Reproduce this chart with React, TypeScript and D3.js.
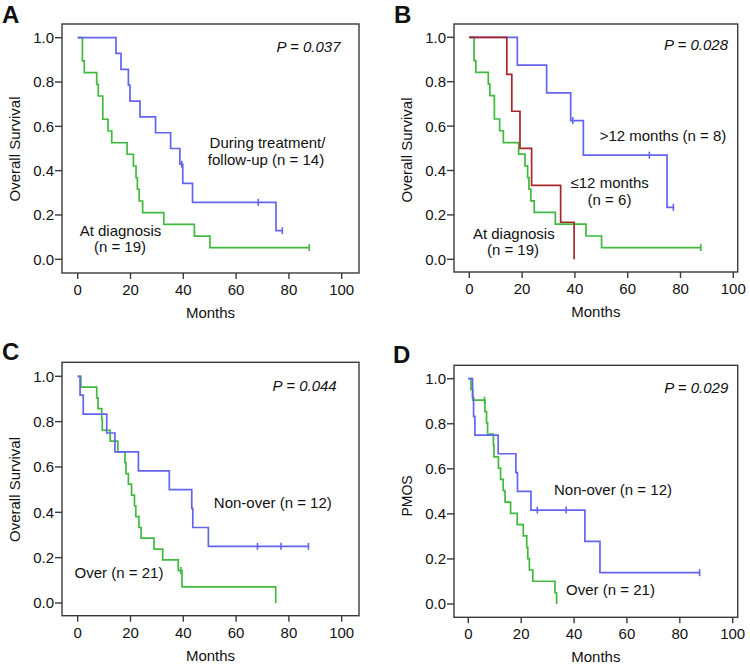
import React from "react";
import * as d3 from "d3";

const monthTicks = [0, 20, 40, 60, 80, 100];
const survTicks = [0, 0.2, 0.4, 0.6, 0.8, 1.0];

const BLUE = "#6464ee";
const GREEN = "#3fba3f";
const RED = "#a8262a";

// "At diagnosis (n = 19)" - used in A and B
const diagTimes = [0, 1.8, 2.5, 7.2, 7.8, 9.5, 11.5, 12.9, 18.7, 21.1, 22.1, 22.6, 23.3, 24.6, 32.6, 44.2, 50.1];
const diagSurv = [1, 0.895, 0.842, 0.789, 0.737, 0.632, 0.579, 0.526, 0.474, 0.421, 0.368, 0.316, 0.263, 0.211, 0.158, 0.105, 0.053];
const diagCensor = [87.7];
const diagEnd = 87.7;

// A: during treatment / follow-up (n = 14)
const duringTimes = [0, 14.5, 16.4, 19.2, 19.8, 23.6, 29.5, 35.2, 38.7, 39.8, 43.5, 75.1];
const duringSurv = [1, 0.929, 0.857, 0.786, 0.714, 0.643, 0.571, 0.5, 0.429, 0.343, 0.257, 0.129];
const duringCensor = [39.4, 68.4, 77.5];
const duringEnd = 77.5;

// B: >12 months (n = 8)
const longTimes = [0, 18.2, 29.3, 38.4, 43.2, 74.9];
const longSurv = [1, 0.875, 0.75, 0.625, 0.469, 0.234];
const longCensor = [39.2, 68.2, 77.3];
const longEnd = 77.3;

// B: <=12 months (n = 6)
const shortTimes = [0, 14.2, 16.1, 19.2, 23.6, 34.6, 39.7];
const shortSurv = [1, 0.833, 0.667, 0.5, 0.333, 0.167, 0];
const shortCensor: number[] = [];
const shortEnd = 39.7;

// C: non-over (n = 12)
const cNonTimes = [0, 0.9, 2.1, 11.0, 14.1, 23.0, 34.7, 43.2, 43.6, 49.5];
const cNonSurv = [1, 0.917, 0.833, 0.75, 0.667, 0.583, 0.5, 0.417, 0.333, 0.25];
const cNonCensor = [68.1, 77.0, 87.4];
const cNonEnd = 87.4;

// C: over (n = 21)
const cOverTimes = [0, 1.2, 7.2, 7.7, 9.1, 9.3, 12.3, 15.2, 17.9, 18.3, 19.2, 20.4, 21.5, 22.0, 23.2, 24.0, 28.9, 32.2, 38.1, 39.5, 75.0];
const cOverSurv = [1, 0.952, 0.905, 0.857, 0.81, 0.762, 0.714, 0.667, 0.619, 0.571, 0.524, 0.476, 0.429, 0.381, 0.333, 0.286, 0.238, 0.19, 0.143, 0.071, 0];
const cOverCensor = [39.1];
const cOverEnd = 75.0;

// D: non-over (n = 12)
const dNonTimes = [0, 1.6, 2.0, 2.5, 11.3, 18.0, 18.6, 23.7, 44.1, 49.8];
const dNonSurv = [1, 0.917, 0.833, 0.75, 0.667, 0.583, 0.5, 0.417, 0.278, 0.139];
const dNonCensor = [26.1, 37.0, 87.5];
const dNonEnd = 87.5;

// D: over (n = 21)
const dOverTimes = [0, 1.0, 1.7, 6.3, 6.9, 7.3, 9.5, 9.7, 11.4, 12.2, 13.2, 13.9, 16.0, 18.5, 20.8, 22.1, 22.5, 23.1, 24.4, 32.8, 33.4];
const dOverSurv = [1, 0.952, 0.905, 0.854, 0.804, 0.754, 0.704, 0.653, 0.603, 0.553, 0.503, 0.452, 0.402, 0.352, 0.302, 0.251, 0.201, 0.151, 0.101, 0.05, 0];
const dOverCensor = [6.1];
const dOverEnd = 33.4;

const font = "'Liberation Sans', Arial, sans-serif";

type Curve = { times: number[]; surv: number[]; censor: number[]; end: number; color: string };
type Note = { text: string; x: number; y: number };
type PanelCfg = {
  letter: string;
  lx: number;
  ly: number;
  frame: { l: number; r: number; t: number; b: number };
  x0: number;
  x100: number;
  y0: number;
  y1: number;
  yLabel: string;
  yLabelMid: number;
  yLabelSize: number;
  pText: string;
  px: number;
  py: number;
  curves: Curve[];
  notes: Note[];
};

const panels: PanelCfg[] = [
  {
    letter: "A", lx: 2, ly: 22.5,
    frame: { l: 62, r: 359, t: 24, b: 273 },
    x0: 77.7, x100: 341.7, y0: 259.3, y1: 37.7,
    yLabel: "Overall Survival", yLabelMid: 149, yLabelSize: 15,
    pText: "0.037", px: 340.5, py: 51.5,
    curves: [
      { times: diagTimes, surv: diagSurv, censor: diagCensor, end: diagEnd, color: GREEN },
      { times: duringTimes, surv: duringSurv, censor: duringCensor, end: duringEnd, color: BLUE },
    ],
    notes: [
      { text: "During treatment/", x: 267.5, y: 148 },
      { text: "follow-up (n = 14)", x: 266, y: 165 },
      { text: "At diagnosis", x: 120.5, y: 236 },
      { text: "(n = 19)", x: 120, y: 252 },
    ],
  },
  {
    letter: "B", lx: 394, ly: 22.5,
    frame: { l: 454, r: 737.7, t: 24, b: 272 },
    x0: 469.3, x100: 733.3, y0: 259.3, y1: 37.3,
    yLabel: "Overall Survival", yLabelMid: 150, yLabelSize: 15,
    pText: "0.028", px: 728, py: 50,
    curves: [
      { times: diagTimes, surv: diagSurv, censor: diagCensor, end: diagEnd, color: GREEN },
      { times: longTimes, surv: longSurv, censor: longCensor, end: longEnd, color: BLUE },
      { times: shortTimes, surv: shortSurv, censor: shortCensor, end: shortEnd, color: RED },
    ],
    notes: [
      { text: ">12 months (n = 8)", x: 663, y: 141 },
      { text: "\u226412 months", x: 609.7, y: 188.3 },
      { text: "(n = 6)", x: 609.5, y: 205 },
      { text: "At diagnosis", x: 513.8, y: 239.3 },
      { text: "(n = 19)", x: 513, y: 255 },
    ],
  },
  {
    letter: "C", lx: 2, ly: 360,
    frame: { l: 62, r: 359, t: 362.3, b: 615.7 },
    x0: 77.7, x100: 341.7, y0: 603, y1: 376.3,
    yLabel: "Overall Survival", yLabelMid: 489.5, yLabelSize: 15,
    pText: "0.044", px: 336.7, py: 391.3,
    curves: [
      { times: cOverTimes, surv: cOverSurv, censor: cOverCensor, end: cOverEnd, color: GREEN },
      { times: cNonTimes, surv: cNonSurv, censor: cNonCensor, end: cNonEnd, color: BLUE },
    ],
    notes: [
      { text: "Non-over (n = 12)", x: 272.8, y: 508 },
      { text: "Over (n = 21)", x: 119, y: 578 },
    ],
  },
  {
    letter: "D", lx: 393, ly: 363,
    frame: { l: 454, r: 737.7, t: 365.3, b: 617.3 },
    x0: 468.3, x100: 732.7, y0: 604, y1: 378.7,
    yLabel: "PMOS", yLabelMid: 496, yLabelSize: 14,
    pText: "0.029", px: 728.3, py: 393,
    curves: [
      { times: dOverTimes, surv: dOverSurv, censor: dOverCensor, end: dOverEnd, color: GREEN },
      { times: dNonTimes, surv: dNonSurv, censor: dNonCensor, end: dNonEnd, color: BLUE },
    ],
    notes: [
      { text: "Non-over (n = 12)", x: 613, y: 494.7 },
      { text: "Over (n = 21)", x: 610.5, y: 594.7 },
    ],
  },
];

function survAt(c: Curve, t: number) {
  const i = d3.bisectRight(c.times, t) - 1;
  return c.surv[Math.max(0, i)];
}

function Panel({ p }: { p: PanelCfg }) {
  const x = d3.scaleLinear().domain([0, 100]).range([p.x0, p.x100]);
  const y = d3.scaleLinear().domain([0, 1]).range([p.y0, p.y1]);
  const line = d3
    .line<[number, number]>()
    .x((d) => x(d[0]))
    .y((d) => y(d[1]))
    .curve(d3.curveStepAfter);
  const { l, r, t, b } = p.frame;

  return (
    <g>
      <text x={p.lx} y={p.ly} fontSize={24} fontWeight="bold" fontFamily={font} fill="#111">
        {p.letter}
      </text>
      <rect x={l} y={t} width={r - l} height={b - t} fill="none" stroke="#3a3a3a" strokeWidth={1.4} />
      {survTicks.map((v) => (
        <g key={"y" + v}>
          <line x1={l - 7} x2={l} y1={y(v)} y2={y(v)} stroke="#3a3a3a" strokeWidth={1.4} />
          <text x={l - 8} y={y(v)} dy="0.36em" textAnchor="end" fontSize={15} fontFamily={font} fill="#111">
            {d3.format(".1f")(v)}
          </text>
        </g>
      ))}
      {monthTicks.map((v) => (
        <g key={"x" + v}>
          <line x1={x(v)} x2={x(v)} y1={b} y2={b + 6} stroke="#3a3a3a" strokeWidth={1.4} />
          <text x={x(v)} y={b + 22} textAnchor="middle" fontSize={15} fontFamily={font} fill="#111">
            {v}
          </text>
        </g>
      ))}
      <text x={(l + r) / 2} y={b + 45} textAnchor="middle" fontSize={15} fontFamily={font} fill="#111">
        Months
      </text>
      <text
        transform={`translate(${l - 47},${p.yLabelMid}) rotate(-90)`}
        dy="0.36em"
        textAnchor="middle"
        fontSize={p.yLabelSize}
        fontFamily={font}
        fill="#111"
      >
        {p.yLabel}
      </text>
      <text x={p.px} y={p.py} textAnchor="end" fontSize={15} fontStyle="italic" fontFamily={font} fill="#111">
        P = {p.pText}
      </text>
      {p.curves.map((c, i) => {
        const pts: [number, number][] = c.times.map((tm, j) => [tm, c.surv[j]]);
        const last = c.times[c.times.length - 1];
        if (c.end > last) pts.push([c.end, c.surv[c.surv.length - 1]]);
        return (
          <g key={i}>
            <path d={line(pts) || ""} fill="none" stroke={c.color} strokeWidth={1.7} />
            {c.censor.map((ct) => (
              <line
                key={ct}
                x1={x(ct)}
                x2={x(ct)}
                y1={y(survAt(c, ct)) - 3.5}
                y2={y(survAt(c, ct)) + 3.5}
                stroke={c.color}
                strokeWidth={1.6}
              />
            ))}
          </g>
        );
      })}
      {p.notes.map((n) => (
        <text key={n.text} x={n.x} y={n.y} textAnchor="middle" fontSize={15} fontFamily={font} fill="#111">
          {n.text}
        </text>
      ))}
    </g>
  );
}

export default function App() {
  return (
    <svg
      width={750}
      height={666}
      style={{ position: "absolute", left: 0, top: 0, background: "#fff" }}
    >
      {panels.map((p) => (
        <Panel key={p.letter} p={p} />
      ))}
    </svg>
  );
}
